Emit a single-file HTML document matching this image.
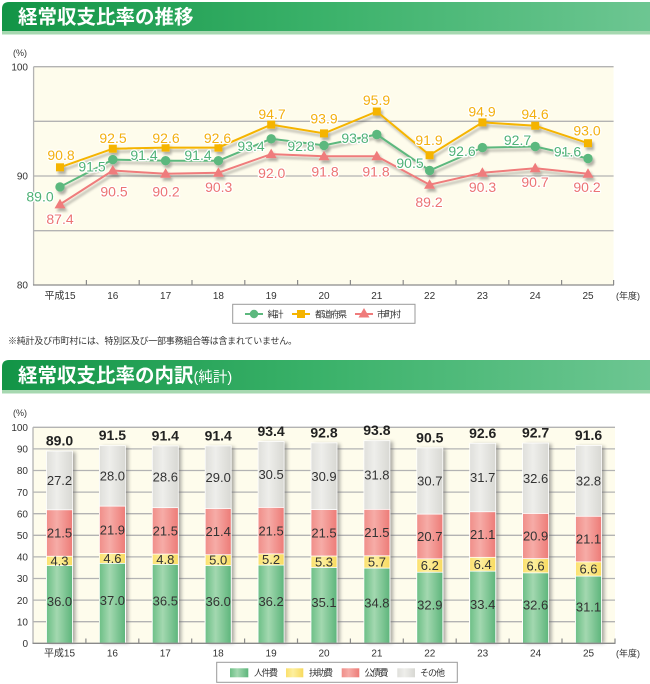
<!DOCTYPE html>
<html><head><meta charset="utf-8">
<style>
html,body{margin:0;padding:0;background:#fff;}
svg{display:block;}
text{font-family:"Liberation Sans","Noto Sans CJK JP",sans-serif;}
.ax{font-size:10px;fill:#333;}
.lg{font-size:9px;fill:#333;}
.num{font-size:14px;stroke:#fff;stroke-width:2.5;paint-order:stroke;stroke-linejoin:round;text-anchor:middle;}
.y{fill:#f3b010;} .g{fill:#4fb277;} .p{fill:#ec7474;}
.seg{font-size:13px;fill:#333;text-anchor:middle;}
.tot{font-size:14px;font-weight:bold;fill:#222;text-anchor:middle;}
</style></head>
<body>
<svg width="650" height="684" viewBox="0 0 650 684" xmlns="http://www.w3.org/2000/svg">
<defs>
 <linearGradient id="tb" x1="0" x2="1" y1="0" y2="0">
  <stop offset="0" stop-color="#129446"/><stop offset="0.5" stop-color="#3bb26a"/><stop offset="1" stop-color="#6dc692"/>
 </linearGradient>
 <linearGradient id="gg" x1="0" x2="1"><stop offset="0" stop-color="#6cbf86"/><stop offset="0.4" stop-color="#a3d8b0"/><stop offset="1" stop-color="#5db57b"/></linearGradient>
 <linearGradient id="gy" x1="0" x2="1"><stop offset="0" stop-color="#fbe06c"/><stop offset="0.4" stop-color="#fdef9f"/><stop offset="1" stop-color="#f8da5e"/></linearGradient>
 <linearGradient id="gp" x1="0" x2="1"><stop offset="0" stop-color="#f08e89"/><stop offset="0.4" stop-color="#f6aca7"/><stop offset="1" stop-color="#ed7b77"/></linearGradient>
 <linearGradient id="gr" x1="0" x2="1"><stop offset="0" stop-color="#dfdfdb"/><stop offset="0.4" stop-color="#eeeeeb"/><stop offset="1" stop-color="#d8d8d3"/></linearGradient>
 <filter id="sh" x="-20%" y="-20%" width="140%" height="140%"><feDropShadow dx="2" dy="3" stdDeviation="1.4" flood-color="#000" flood-opacity="0.3"/></filter>
 <filter id="bl" x="-50%" y="-10%" width="200%" height="120%"><feGaussianBlur stdDeviation="1.8"/></filter>
 <polygon id="tri" points="0,-5.5 -5.5,4 5.5,4"/>
</defs>

<!-- Title 1 -->
<path d="M2,31 L2,9 Q2,2 9,2 L650,2 L650,31 Z" fill="url(#tb)"/>
<rect x="2" y="31" width="648" height="3.5" fill="#a6d8b0"/>
<text x="18" y="23.5" font-size="19.5" font-weight="bold" fill="#fff">経常収支比率の推移</text>

<!-- Top chart -->
<text x="13" y="56" font-size="9" fill="#333">(%)</text>
<rect x="33.6" y="66.7" width="580" height="218.3" fill="#fefcec"/>
<g stroke="#b3b3b3" stroke-width="1.3">
 <line x1="33.6" y1="66.7" x2="613.6" y2="66.7"/>
 <line x1="33.6" y1="121.3" x2="613.6" y2="121.3"/>
 <line x1="33.6" y1="176" x2="613.6" y2="176"/>
 <line x1="33.6" y1="230.7" x2="613.6" y2="230.7"/>
 <line x1="33.6" y1="66.7" x2="33.6" y2="285"/>
</g>
<line x1="33" y1="285" x2="614" y2="285" stroke="#8a8a8a" stroke-width="1.3"/>
<g stroke="#8a8a8a" stroke-width="1.2">
 <line x1="86.4" y1="280" x2="86.4" y2="285"/><line x1="139.2" y1="280" x2="139.2" y2="285"/>
 <line x1="192" y1="280" x2="192" y2="285"/><line x1="244.8" y1="280" x2="244.8" y2="285"/>
 <line x1="297.6" y1="280" x2="297.6" y2="285"/><line x1="350.4" y1="280" x2="350.4" y2="285"/>
 <line x1="403.2" y1="280" x2="403.2" y2="285"/><line x1="456" y1="280" x2="456" y2="285"/>
 <line x1="508.8" y1="280" x2="508.8" y2="285"/><line x1="561.6" y1="280" x2="561.6" y2="285"/>
 <line x1="613.6" y1="280" x2="613.6" y2="285"/>
</g>
<g class="ax" text-anchor="end">
 <text x="28" y="70.5">100</text><text x="28" y="179.5">90</text><text x="28" y="288.5">80</text>
</g>
<g class="ax" text-anchor="middle">
 <text x="60" y="299">平成15</text><text x="112.8" y="299">16</text><text x="165.6" y="299">17</text>
 <text x="218.4" y="299">18</text><text x="271.2" y="299">19</text><text x="324" y="299">20</text>
 <text x="376.8" y="299">21</text><text x="429.6" y="299">22</text><text x="482.4" y="299">23</text>
 <text x="535.2" y="299">24</text><text x="588" y="299">25</text>
</g>
<text x="616" y="299" font-size="9" fill="#333">(年度)</text>

<g filter="url(#sh)">
 <polyline fill="none" stroke="#ef7b7b" stroke-width="2" points="60,204.4 112.8,170.5 165.6,173.8 218.4,172.7 271.2,154.1 324,156.3 376.8,156.3 429.6,184.7 482.4,172.7 535.2,168.3 588,173.8"/>
 <g fill="#ef7b7b">
  <use href="#tri" x="60" y="204.4"/><use href="#tri" x="112.8" y="170.5"/><use href="#tri" x="165.6" y="173.8"/>
  <use href="#tri" x="218.4" y="172.7"/><use href="#tri" x="271.2" y="154.1"/><use href="#tri" x="324" y="156.3"/>
  <use href="#tri" x="376.8" y="156.3"/><use href="#tri" x="429.6" y="184.7"/><use href="#tri" x="482.4" y="172.7"/>
  <use href="#tri" x="535.2" y="168.3"/><use href="#tri" x="588" y="173.8"/>
 </g>
 <polyline fill="none" stroke="#5cb87e" stroke-width="2" points="60,186.9 112.8,159.6 165.6,160.7 218.4,160.7 271.2,138.8 324,145.4 376.8,134.5 429.6,170.5 482.4,147.6 535.2,146.5 588,158.5"/>
 <g fill="#5cb87e">
  <circle cx="60" cy="186.9" r="4.7"/><circle cx="112.8" cy="159.6" r="4.7"/><circle cx="165.6" cy="160.7" r="4.7"/>
  <circle cx="218.4" cy="160.7" r="4.7"/><circle cx="271.2" cy="138.8" r="4.7"/><circle cx="324" cy="145.4" r="4.7"/>
  <circle cx="376.8" cy="134.5" r="4.7"/><circle cx="429.6" cy="170.5" r="4.7"/><circle cx="482.4" cy="147.6" r="4.7"/>
  <circle cx="535.2" cy="146.5" r="4.7"/><circle cx="588" cy="158.5" r="4.7"/>
 </g>
 <polyline fill="none" stroke="#f5b400" stroke-width="2" points="60,167.3 112.8,148.7 165.6,147.6 218.4,147.6 271.2,124.6 324,133.4 376.8,111.5 429.6,155.2 482.4,122.4 535.2,125.7 588,143.2"/>
 <g fill="#f5b400">
  <rect x="56" y="163.3" width="8" height="8"/><rect x="108.8" y="144.7" width="8" height="8"/><rect x="161.6" y="143.6" width="8" height="8"/>
  <rect x="214.4" y="143.6" width="8" height="8"/><rect x="267.2" y="120.6" width="8" height="8"/><rect x="320" y="129.4" width="8" height="8"/>
  <rect x="372.8" y="107.5" width="8" height="8"/><rect x="425.6" y="151.2" width="8" height="8"/><rect x="478.4" y="118.4" width="8" height="8"/>
  <rect x="531.2" y="121.7" width="8" height="8"/><rect x="584" y="139.2" width="8" height="8"/>
 </g>
</g>

<g class="num y">
 <text x="61" y="160">90.8</text><text x="113" y="143">92.5</text><text x="166" y="143">92.6</text>
 <text x="217.5" y="143">92.6</text><text x="272" y="119">94.7</text><text x="324" y="123.5">93.9</text>
 <text x="376.5" y="105">95.9</text><text x="429" y="145">91.9</text><text x="482" y="116.7">94.9</text>
 <text x="535" y="119">94.6</text><text x="587" y="135.7">93.0</text>
</g>
<g class="num g">
 <text x="40" y="201.7">89.0</text><text x="92" y="171.7">91.5</text><text x="144" y="160">91.4</text>
 <text x="198" y="160">91.4</text><text x="251" y="151">93.4</text><text x="301" y="151">92.8</text>
 <text x="355" y="143">93.8</text><text x="410" y="168">90.5</text><text x="462" y="156">92.6</text>
 <text x="517.5" y="145">92.7</text><text x="567.5" y="156.7">91.6</text>
</g>
<g class="num p">
 <text x="60" y="224">87.4</text><text x="114" y="196.7">90.5</text><text x="166" y="196.7">90.2</text>
 <text x="218.7" y="192">90.3</text><text x="271.7" y="178">92.0</text><text x="325" y="176.5">91.8</text>
 <text x="376" y="176.7">91.8</text><text x="429" y="207">89.2</text><text x="482.5" y="192">90.3</text>
 <text x="535" y="187">90.7</text><text x="587" y="192">90.2</text>
</g>

<!-- Top legend -->
<rect x="232.7" y="304.3" width="182.3" height="19" fill="#fff" stroke="#9a9a9a" stroke-width="1"/>
<line x1="245" y1="314" x2="263" y2="314" stroke="#5cb87e" stroke-width="2"/><circle cx="254" cy="314" r="4.2" fill="#5cb87e"/>
<text class="lg" x="267.5" y="317.5" textLength="16">純計</text>
<line x1="292" y1="314" x2="310" y2="314" stroke="#f5b400" stroke-width="2"/><rect x="297" y="310" width="8" height="8" fill="#f5b400"/>
<text class="lg" x="315" y="317.5" textLength="32">都道府県</text>
<line x1="355" y1="314" x2="373" y2="314" stroke="#ef7b7b" stroke-width="2"/><use href="#tri" x="364" y="313.5" fill="#ef7b7b"/>
<text class="lg" x="377" y="317.5" textLength="24">市町村</text>

<text x="8" y="344" font-size="9" fill="#333" textLength="289">※純計及び市町村には、特別区及び一部事務組合等は含まれていません。</text>

<!-- Title 2 -->
<path d="M2,390 L2,367 Q2,360 9,360 L650,360 L650,390 Z" fill="url(#tb)"/>
<rect x="2" y="390" width="648" height="3.5" fill="#a6d8b0"/>
<text x="18" y="382" font-size="19.5" font-weight="bold" fill="#fff">経常収支比率の内訳<tspan font-size="14.5" font-weight="normal">(純計)</tspan></text>

<!-- Bottom chart -->
<text x="13" y="416" font-size="9" fill="#333">(%)</text>
<rect x="33" y="427.3" width="582" height="216" fill="#fefcec"/>
<g stroke="#b3b3b3" stroke-width="1.3">
 <line x1="33" y1="427.3" x2="615" y2="427.3"/><line x1="33" y1="448.9" x2="615" y2="448.9"/>
 <line x1="33" y1="470.5" x2="615" y2="470.5"/><line x1="33" y1="492.1" x2="615" y2="492.1"/>
 <line x1="33" y1="513.7" x2="615" y2="513.7"/><line x1="33" y1="535.3" x2="615" y2="535.3"/>
 <line x1="33" y1="556.9" x2="615" y2="556.9"/><line x1="33" y1="578.5" x2="615" y2="578.5"/>
 <line x1="33" y1="600.1" x2="615" y2="600.1"/><line x1="33" y1="621.7" x2="615" y2="621.7"/>
 <line x1="33" y1="427.3" x2="33" y2="643.3"/>
</g>
<g class="ax" text-anchor="end" font-size="10.5">
 <text x="28" y="431">100</text><text x="28" y="452.6">90</text><text x="28" y="474.2">80</text>
 <text x="28" y="495.8">70</text><text x="28" y="517.4">60</text><text x="28" y="539">50</text>
 <text x="28" y="560.6">40</text><text x="28" y="582.2">30</text><text x="28" y="603.8">20</text>
 <text x="28" y="625.4">10</text><text x="28" y="647">0</text>
</g>

<!-- bar shadows -->
<g fill="#666" opacity="0.55" filter="url(#bl)">
 <rect x="49.5" y="452" width="26" height="191"/><rect x="102.4" y="446.6" width="26" height="196.7"/>
 <rect x="155.3" y="446.8" width="26" height="196.5"/><rect x="208.2" y="446.8" width="26" height="196.5"/>
 <rect x="261.1" y="442.5" width="26" height="200.8"/><rect x="314" y="443.8" width="26" height="199.5"/>
 <rect x="366.9" y="441.6" width="26" height="201.7"/><rect x="419.8" y="448.8" width="26" height="194.5"/>
 <rect x="472.7" y="444.2" width="26" height="199.1"/><rect x="525.6" y="444" width="26" height="199.3"/>
 <rect x="578.5" y="446.4" width="26" height="196.9"/>
</g>

<!-- bars: gray, pink, yellow, green (each to baseline) -->
<g stroke="#fff" stroke-width="0.8">
 <g transform="translate(46.5,0)"><rect width="26" y="451.06" height="192.24" fill="url(#gr)"/><rect width="26" y="509.81" height="133.49" fill="url(#gp)"/><rect width="26" y="556.25" height="87.05" fill="url(#gy)"/><rect width="26" y="565.54" height="77.76" fill="url(#gg)"/></g>
 <g transform="translate(99.4,0)"><rect width="26" y="445.66" height="197.64" fill="url(#gr)"/><rect width="26" y="506.14" height="137.16" fill="url(#gp)"/><rect width="26" y="553.44" height="89.86" fill="url(#gy)"/><rect width="26" y="563.38" height="79.92" fill="url(#gg)"/></g>
 <g transform="translate(152.3,0)"><rect width="26" y="445.88" height="197.42" fill="url(#gr)"/><rect width="26" y="507.65" height="135.65" fill="url(#gp)"/><rect width="26" y="554.09" height="89.21" fill="url(#gy)"/><rect width="26" y="564.46" height="78.84" fill="url(#gg)"/></g>
 <g transform="translate(205.2,0)"><rect width="26" y="445.88" height="197.42" fill="url(#gr)"/><rect width="26" y="508.52" height="134.78" fill="url(#gp)"/><rect width="26" y="554.74" height="88.56" fill="url(#gy)"/><rect width="26" y="565.54" height="77.76" fill="url(#gg)"/></g>
 <g transform="translate(258.1,0)"><rect width="26" y="441.56" height="201.74" fill="url(#gr)"/><rect width="26" y="507.44" height="135.86" fill="url(#gp)"/><rect width="26" y="553.88" height="89.42" fill="url(#gy)"/><rect width="26" y="565.11" height="78.19" fill="url(#gg)"/></g>
 <g transform="translate(311,0)"><rect width="26" y="442.85" height="200.45" fill="url(#gr)"/><rect width="26" y="509.6" height="133.7" fill="url(#gp)"/><rect width="26" y="556.04" height="87.26" fill="url(#gy)"/><rect width="26" y="567.48" height="75.82" fill="url(#gg)"/></g>
 <g transform="translate(363.9,0)"><rect width="26" y="440.69" height="202.61" fill="url(#gr)"/><rect width="26" y="509.38" height="133.92" fill="url(#gp)"/><rect width="26" y="555.82" height="87.48" fill="url(#gy)"/><rect width="26" y="568.13" height="75.17" fill="url(#gg)"/></g>
 <g transform="translate(416.8,0)"><rect width="26" y="447.82" height="195.48" fill="url(#gr)"/><rect width="26" y="514.13" height="129.17" fill="url(#gp)"/><rect width="26" y="558.84" height="84.46" fill="url(#gy)"/><rect width="26" y="572.24" height="71.06" fill="url(#gg)"/></g>
 <g transform="translate(469.7,0)"><rect width="26" y="443.28" height="200.02" fill="url(#gr)"/><rect width="26" y="511.76" height="131.54" fill="url(#gp)"/><rect width="26" y="557.33" height="85.97" fill="url(#gy)"/><rect width="26" y="571.16" height="72.14" fill="url(#gg)"/></g>
 <g transform="translate(522.6,0)"><rect width="26" y="443.07" height="200.23" fill="url(#gr)"/><rect width="26" y="513.48" height="129.82" fill="url(#gp)"/><rect width="26" y="558.63" height="84.67" fill="url(#gy)"/><rect width="26" y="572.88" height="70.42" fill="url(#gg)"/></g>
 <g transform="translate(575.5,0)"><rect width="26" y="445.44" height="197.86" fill="url(#gr)"/><rect width="26" y="516.29" height="127.01" fill="url(#gp)"/><rect width="26" y="561.87" height="81.43" fill="url(#gy)"/><rect width="26" y="576.12" height="67.18" fill="url(#gg)"/></g>
</g>

<line x1="32.5" y1="643.3" x2="615.5" y2="643.3" stroke="#8a8a8a" stroke-width="1.3"/>
<g stroke="#8a8a8a" stroke-width="1.2">
 <line x1="85.9" y1="638.5" x2="85.9" y2="643.3"/><line x1="138.8" y1="638.5" x2="138.8" y2="643.3"/>
 <line x1="191.7" y1="638.5" x2="191.7" y2="643.3"/><line x1="244.6" y1="638.5" x2="244.6" y2="643.3"/>
 <line x1="297.5" y1="638.5" x2="297.5" y2="643.3"/><line x1="350.4" y1="638.5" x2="350.4" y2="643.3"/>
 <line x1="403.3" y1="638.5" x2="403.3" y2="643.3"/><line x1="456.2" y1="638.5" x2="456.2" y2="643.3"/>
 <line x1="509.1" y1="638.5" x2="509.1" y2="643.3"/><line x1="562" y1="638.5" x2="562" y2="643.3"/>
 <line x1="615" y1="638.5" x2="615" y2="643.3"/>
</g>

<!-- totals -->
<g class="tot">
 <text x="59.5" y="445.6">89.0</text><text x="112.4" y="440.2">91.5</text><text x="165.3" y="440.4">91.4</text>
 <text x="218.2" y="440.4">91.4</text><text x="271.1" y="436.1">93.4</text><text x="324" y="437.4">92.8</text>
 <text x="376.9" y="435.2">93.8</text><text x="429.8" y="442.3">90.5</text><text x="482.7" y="437.8">92.6</text>
 <text x="535.6" y="437.6">92.7</text><text x="588.5" y="439.9">91.6</text>
</g>
<!-- segment labels -->
<g class="seg">
 <text x="59.5" y="485">27.2</text><text x="112.4" y="480.5">28.0</text><text x="165.3" y="481.4">28.6</text>
 <text x="218.2" y="481.8">29.0</text><text x="271.1" y="479.1">30.5</text><text x="324" y="480.8">30.9</text>
 <text x="376.9" y="479.6">31.8</text><text x="429.8" y="485.6">30.7</text><text x="482.7" y="482.1">31.7</text>
 <text x="535.6" y="482.9">32.6</text><text x="588.5" y="485.5">32.8</text>

 <text x="59.5" y="537.6">21.5</text><text x="112.4" y="534.4">21.9</text><text x="165.3" y="535.5">21.5</text>
 <text x="218.2" y="536.2">21.4</text><text x="271.1" y="535.3">21.5</text><text x="324" y="537.4">21.5</text>
 <text x="376.9" y="537.2">21.5</text><text x="429.8" y="541.1">20.7</text><text x="482.7" y="539.1">21.1</text>
 <text x="535.6" y="540.7">20.9</text><text x="588.5" y="543.7">21.1</text>

 <text x="59.5" y="565.5">4.3</text><text x="112.4" y="563">4.6</text><text x="165.3" y="563.9">4.8</text>
 <text x="218.2" y="564.7">5.0</text><text x="271.1" y="564.1">5.2</text><text x="324" y="566.4">5.3</text>
 <text x="376.9" y="566.6">5.7</text><text x="429.8" y="570.1">6.2</text><text x="482.7" y="568.8">6.4</text>
 <text x="535.6" y="570.4">6.6</text><text x="588.5" y="573.6">6.6</text>

 <text x="59.5" y="606">36.0</text><text x="112.4" y="604.9">37.0</text><text x="165.3" y="605.5">36.5</text>
 <text x="218.2" y="606">36.0</text><text x="271.1" y="605.8">36.2</text><text x="324" y="607">35.1</text>
 <text x="376.9" y="607.3">34.8</text><text x="429.8" y="609.4">32.9</text><text x="482.7" y="608.8">33.4</text>
 <text x="535.6" y="609.7">32.6</text><text x="588.5" y="611.3">31.1</text>
</g>

<g class="ax" text-anchor="middle">
 <text x="59.5" y="656.5">平成15</text><text x="112.4" y="656.5">16</text><text x="165.3" y="656.5">17</text>
 <text x="218.2" y="656.5">18</text><text x="271.1" y="656.5">19</text><text x="324" y="656.5">20</text>
 <text x="376.9" y="656.5">21</text><text x="429.8" y="656.5">22</text><text x="482.7" y="656.5">23</text>
 <text x="535.6" y="656.5">24</text><text x="588.5" y="656.5">25</text>
</g>
<text x="616" y="656.5" font-size="9" fill="#333">(年度)</text>

<!-- bottom legend -->
<rect x="216.7" y="662.3" width="240.6" height="20" fill="#fff" stroke="#9a9a9a" stroke-width="1"/>
<rect x="230" y="668.3" width="18.3" height="9" fill="url(#gg)"/>
<text class="lg" x="254" y="676" textLength="24">人件費</text>
<rect x="286" y="668.3" width="17.3" height="9" fill="url(#gy)"/>
<text class="lg" x="309" y="676" textLength="24">扶助費</text>
<rect x="341.7" y="668.3" width="17.6" height="9" fill="url(#gp)"/>
<text class="lg" x="364.5" y="676" textLength="24">公債費</text>
<rect x="397.3" y="668.3" width="17.7" height="9" fill="url(#gr)"/>
<text class="lg" x="420" y="676" textLength="25">その他</text>
</svg>
</body></html>
